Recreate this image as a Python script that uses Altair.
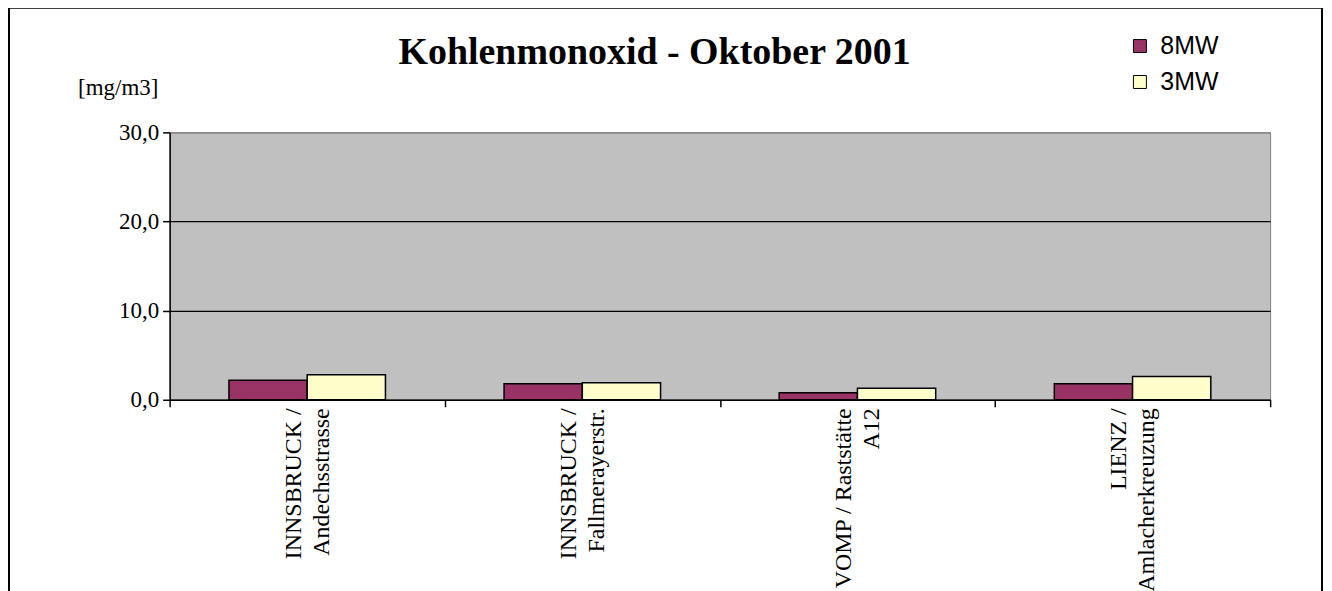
import altair as alt
import pandas as pd

stations = [
    "INNSBRUCK /|Andechsstrasse",
    "INNSBRUCK /|Fallmerayerstr.",
    "VOMP / Raststätte|A12",
    "LIENZ /|Amlacherkreuzung",
]
series = ["8MW", "3MW"]
values_8mw = [2.2, 1.8, 0.8, 1.8]
values_3mw = [2.8, 1.9, 1.3, 2.6]
colors = ["#993366", "#FFFFCC"]
y_ticks = [0, 10, 20, 30]

rows = []
for s, a, b in zip(stations, values_8mw, values_3mw):
    rows.append({"station": s, "series": "8MW", "value": a})
    rows.append({"station": s, "series": "3MW", "value": b})
df = pd.DataFrame(rows)

W, H = 1103, 268

bars = alt.Chart(df).mark_bar(stroke="black", strokeWidth=1.5).encode(
    x=alt.X(
        "station:N",
        sort=stations,
        scale=alt.Scale(paddingInner=0, paddingOuter=0),
        axis=alt.Axis(
            title=None,
            labelExpr="split(datum.label, '|')",
            labelAngle=-90,
            labelAlign="right",
            labelBaseline="middle",
            labelFont="Liberation Serif",
            labelFontSize=24,
            labelColor="black",
            labelLineHeight=28,
            labelPadding=1,
            labelOffset=-14,
            labelLimit=500,
            tickBand="extent",
            tickSize=7,
            tickColor="black",
            tickWidth=1.5,
            domainColor="black",
            domainWidth=1.5,
            grid=False,
        ),
    ),
    xOffset=alt.XOffset(
        "series:N", sort=series,
        scale=alt.Scale(paddingOuter=0.758, paddingInner=0),
    ),
    y=alt.Y(
        "value:Q",
        scale=alt.Scale(domain=[0, 30], nice=False),
        axis=alt.Axis(
            title="[mg/m3]",
            titleAngle=0,
            titleFont="Liberation Serif",
            titleFontSize=23,
            titleFontWeight="normal",
            titleColor="black",
            titleAlign="center",
            titleBaseline="middle",
            titleX=-52,
            titleY=-45,
            values=y_ticks,
            labelExpr="replace(format(datum.value, '.1f'), '.', ',')",
            labelFont="Liberation Serif",
            labelFontSize=23,
            labelColor="black",
            labelPadding=4,
            tickSize=7,
            tickColor="black",
            tickWidth=1.5,
            domainColor="black",
            domainWidth=1.5,
            grid=True,
            gridColor={"condition": {"test": "datum.value === 30", "value": "#808080"}, "value": "black"},
            gridWidth=1.2,
        ),
    ),
    color=alt.Color(
        "series:N",
        sort=series,
        scale=alt.Scale(domain=series, range=colors),
        legend=alt.Legend(
            title=None,
            orient="none",
            legendX=960,
            legendY=-99,
            symbolType="square",
            symbolSize=169,
            symbolStrokeColor="black",
            symbolStrokeWidth=1,
            labelFont="Liberation Sans",
            labelFontSize=25,
            labelColor="black",
            rowPadding=10,
            labelOffset=8,
        ),
    ),
)

title = alt.Chart(alt.Data(values=[{}])).mark_text(
    text="Kohlenmonoxid - Oktober 2001",
    font="Liberation Serif", fontSize=38, fontWeight="bold",
    align="center", baseline="middle", color="black",
).encode(x=alt.value(486), y=alt.value(-80))

border = alt.Chart(alt.Data(values=[{}])).mark_rect(
    fill=None, stroke="black", strokeWidth=2,
).encode(x=alt.value(-161), x2=alt.value(1155), y=alt.value(-125), y2=alt.value(500))

chart = alt.layer(bars, title, border).properties(
    width=W, height=H,
    autosize="none",
    background="white",
    padding={"left": 162, "top": 124, "right": 54, "bottom": 191},
).configure_view(
    fill="#C0C0C0", stroke="#808080", strokeWidth=1,
)

chart.save("out.html", embed_options={"renderer": "svg", "actions": False})
